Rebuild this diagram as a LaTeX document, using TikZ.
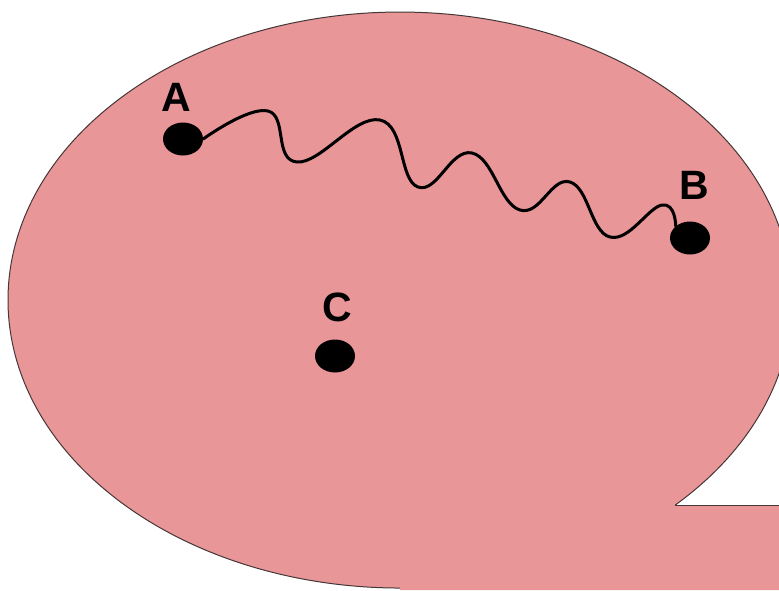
\documentclass[tikz,border=0pt]{standalone}
\usepackage{fontspec}
\setmainfont{Liberation Sans}
\usetikzlibrary{shapes.geometric}
\definecolor{blobpink}{RGB}{232,150,152}
\definecolor{blobline}{RGB}{70,55,55}
\tikzset{
  dot/.style={ellipse, fill=black, minimum width=40pt, minimum height=33pt, inner sep=0pt},
  lbl/.style={font=\bfseries\fontsize{41}{48}\selectfont, inner sep=0pt, text=black},
  wave/.style={line width=3pt, line join=round, line cap=round}
}
\begin{document}
\begin{tikzpicture}[x=1pt, y=-1pt]
\useasboundingbox (0,0) rectangle (779,590);
\clip (0,0) rectangle (779,590);
\fill[white] (0,0) rectangle (779,590);
% blob
\coordinate (notch) at (675.3,505);
\coordinate (edge) at (779,505);
\fill[blobpink] (notch) arc[start angle=45.38, end angle=-270, x radius=392, y radius=288]
  -- (400,590) -- (779,590) -- (edge) -- cycle;
\draw[blobline, line width=1pt] (notch) arc[start angle=45.38, end angle=-270, x radius=392, y radius=288];
\draw[blobline, line width=1pt] (notch) -- (edge);
% points
\node[dot] (A) at (183,139) {};
\node[dot] (B) at (690,238) {};
\node[dot] (C) at (335,356) {};
\node[lbl] (lA) at (176,97) {A};
\node[lbl] (lB) at (694,185) {B};
\node[lbl] (lC) at (337,307) {C};
% wavy connector
\draw[wave] plot[smooth, tension=0.75] coordinates {(A.east) (268,111) (297,162) (380,120) (418,187) (472,153) (520,210) (570,182) (610,237) (662,205) (B.north west)};
\end{tikzpicture}
\end{document}
